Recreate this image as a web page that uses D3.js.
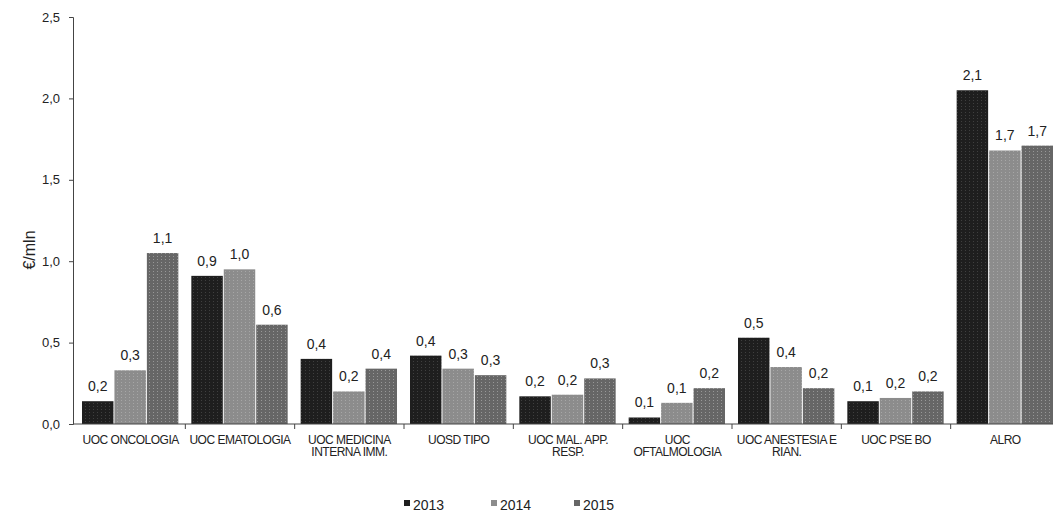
<!DOCTYPE html>
<html><head><meta charset="utf-8">
<script src="https://cdn.jsdelivr.net/npm/d3@7"></script>
<style>body{margin:0;background:#fff;} svg{display:block;font-family:"Liberation Sans",Arial,sans-serif;}</style>
</head><body><svg id="c" width="1053" height="515"></svg>
<script>
const categories = [["UOC ONCOLOGIA"],["UOC EMATOLOGIA"],["UOC MEDICINA","INTERNA IMM."],["UOSD TIPO"],["UOC MAL. APP.","RESP."],["UOC","OFTALMOLOGIA"],["UOC ANESTESIA E","RIAN."],["UOC PSE BO"],["ALRO"]];
const seriesNames = ["2013","2014","2015"];
const values2013 = [0.14,0.91,0.40,0.42,0.17,0.04,0.53,0.14,2.05];
const values2014 = [0.33,0.95,0.20,0.34,0.18,0.13,0.35,0.16,1.68];
const values2015 = [1.05,0.61,0.34,0.30,0.28,0.22,0.22,0.20,1.71];
const labels2013 = ["0,2","0,9","0,4","0,4","0,2","0,1","0,5","0,1","2,1"];
const labels2014 = ["0,3","1,0","0,2","0,3","0,2","0,1","0,4","0,2","1,7"];
const labels2015 = ["1,1","0,6","0,4","0,3","0,3","0,2","0,2","0,2","1,7"];
const yTicks = [0,0.5,1.0,1.5,2.0,2.5];
const colors = ["#1e1e1e","#8c8c8c","#666666"];

const svg = d3.select("#c");
const x0 = 76, x1 = 1060, yTop = 17, yBot = 424;
const series = [values2013, values2014, values2015];
const labels = [labels2013, labels2014, labels2015];

const x = d3.scaleBand().domain(d3.range(categories.length)).range([x0, x1]).paddingInner(0).paddingOuter(0);
const xs = d3.scaleBand().domain(d3.range(3)).range([6, x.bandwidth()-7]).paddingInner(0.03);
const y = d3.scaleLinear().domain([0,2.5]).range([yBot, yTop]);

const defs = svg.append("defs");
colors.forEach((c,i)=>{
  const p = defs.append("pattern").attr("id","p"+i).attr("width",4).attr("height",3).attr("patternUnits","userSpaceOnUse");
  p.append("rect").attr("width",4).attr("height",3).attr("fill",c);
  p.append("rect").attr("x",1).attr("y",1).attr("width",1).attr("height",1).attr("fill", i===0?"#555":"#b8b8b8").attr("opacity",0.6);
});

series.forEach((vals, s)=>{
  svg.append("g").selectAll("rect").data(vals).join("rect")
    .attr("x",(d,i)=>x(i)+xs(s))
    .attr("width",xs.bandwidth())
    .attr("y",d=>y(d))
    .attr("height",d=>yBot-y(d))
    .attr("fill","url(#p"+s+")");
  svg.append("g").selectAll("text").data(vals).join("text")
    .attr("x",(d,i)=>x(i)+xs(s)+xs.bandwidth()/2)
    .attr("y",d=>y(d)-10)
    .attr("text-anchor","middle")
    .attr("font-size",14)
    .attr("fill","#222")
    .text((d,i)=>labels[s][i]);
});

const ya = svg.append("g").attr("transform",`translate(${x0-3},0)`)
  .call(d3.axisLeft(y).tickValues(yTicks).tickSize(4).tickPadding(9).tickFormat(d=>d3.format(".1f")(d).replace(".",",")));
ya.select(".domain").attr("stroke","#444");
ya.selectAll(".tick line").attr("stroke","#444");
ya.selectAll("text").attr("font-size",13).attr("fill","#222").style("font-family","'Liberation Sans',Arial,sans-serif");

const xa = svg.append("g").attr("transform",`translate(0,${yBot})`);
xa.append("line").attr("x1",x0-3).attr("x2",x1).attr("stroke","#444");
xa.selectAll("line.t").data(d3.range(1,categories.length)).join("line").attr("class","t")
  .attr("x1",i=>x(i)).attr("x2",i=>x(i)).attr("y1",0).attr("y2",5).attr("stroke","#444");
const cl = svg.append("g").selectAll("text").data(categories).join("text")
  .attr("text-anchor","middle").attr("font-size",12).attr("fill","#222")
  .attr("letter-spacing","-0.5")
  .attr("transform",(d,i)=>`translate(${x(i)+x.bandwidth()/2},${yBot+20})`);
cl.selectAll("tspan").data(d=>d).join("tspan").attr("x",0).attr("dy",(d,j)=>j===0?0:12).text(d=>d);

svg.append("text").attr("transform","translate(35,250) rotate(-90)").attr("text-anchor","middle")
  .attr("font-size",16).attr("fill","#222").text("€/mln");

const legX = [404, 491, 574];
const lg = svg.append("g").selectAll("g").data(seriesNames).join("g").attr("transform",(d,i)=>`translate(${legX[i]},505)`);
lg.append("rect").attr("x",0).attr("y",-5).attr("width",6).attr("height",6).attr("fill",(d,i)=>colors[i]);
lg.append("text").attr("x",9).attr("y",5).attr("font-size",14).attr("fill","#222").text(d=>d);
</script></body></html>
